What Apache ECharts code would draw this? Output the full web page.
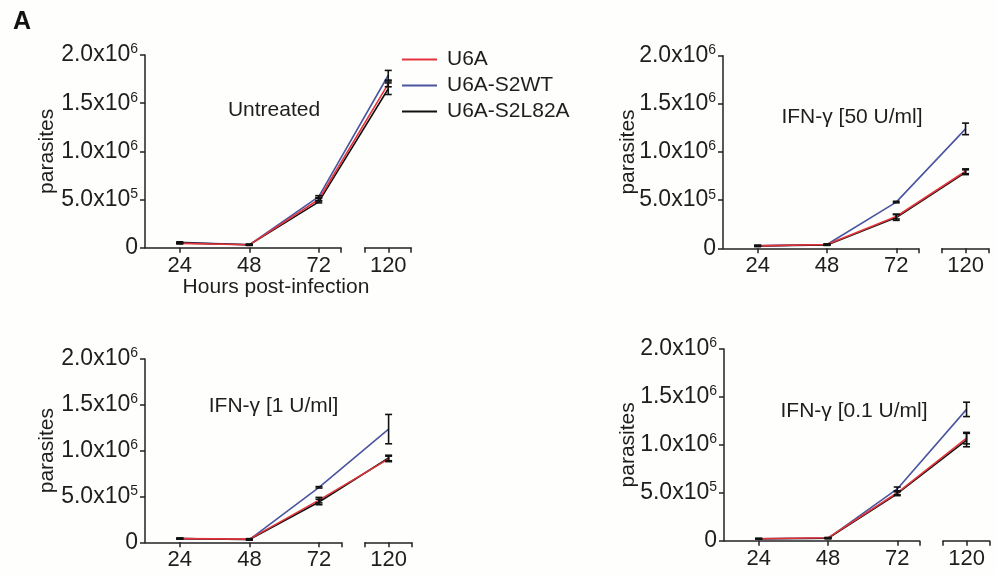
<!DOCTYPE html>
<html><head><meta charset="utf-8">
<script src="https://cdn.jsdelivr.net/npm/echarts@6/dist/echarts.min.js"></script>
<style>html,body{margin:0;padding:0;background:#fefefc}#c{width:997px;height:575px}</style>
</head><body><div id="c"></div>
<script>
// ---------- data ----------
const hours = ['24', '48', '72', '120'];
const seriesNames = ['U6A', 'U6A-S2WT', 'U6A-S2L82A'];
const panelTitles = ['Untreated', 'IFN-γ [50 U/ml]', 'IFN-γ [1 U/ml]', 'IFN-γ [0.1 U/ml]'];
const yTicks = [0, 500000, 1000000, 1500000, 2000000];
const yTickBase = ['0', '5.0x10', '1.0x10', '1.5x10', '2.0x10'];
const yTickExp = ['', '5', '6', '6', '6'];

// Untreated
const untreated_U6A = [45000, 30000, 500000, 1700000];
const untreated_U6A_err = [6000, 5000, 12000, 30000];
const untreated_S2WT = [55000, 30000, 530000, 1790000];
const untreated_S2WT_err = [6000, 5000, 10000, 50000];
const untreated_L82A = [50000, 30000, 475000, 1650000];
const untreated_L82A_err = [6000, 5000, 10000, 60000];
// IFN-g 50 U/ml
const ifn50_U6A = [25000, 40000, 330000, 800000];
const ifn50_U6A_err = [5000, 5000, 25000, 25000];
const ifn50_S2WT = [25000, 40000, 480000, 1240000];
const ifn50_S2WT_err = [5000, 5000, 8000, 60000];
const ifn50_L82A = [25000, 35000, 320000, 790000];
const ifn50_L82A_err = [5000, 5000, 30000, 25000];
// IFN-g 1 U/ml
const ifn1_U6A = [40000, 35000, 460000, 910000];
const ifn1_U6A_err = [5000, 5000, 30000, 30000];
const ifn1_S2WT = [40000, 30000, 600000, 1235000];
const ifn1_S2WT_err = [5000, 5000, 8000, 160000];
const ifn1_L82A = [40000, 30000, 440000, 920000];
const ifn1_L82A_err = [5000, 5000, 30000, 30000];
// IFN-g 0.1 U/ml
const ifn01_U6A = [20000, 30000, 500000, 1070000];
const ifn01_U6A_err = [3000, 4000, 20000, 60000];
const ifn01_S2WT = [20000, 25000, 540000, 1370000];
const ifn01_S2WT_err = [3000, 4000, 20000, 75000];
const ifn01_L82A = [20000, 25000, 490000, 1050000];
const ifn01_L82A_err = [3000, 4000, 20000, 70000];

const panelValues = [
  [untreated_U6A, untreated_S2WT, untreated_L82A],
  [ifn50_U6A, ifn50_S2WT, ifn50_L82A],
  [ifn1_U6A, ifn1_S2WT, ifn1_L82A],
  [ifn01_U6A, ifn01_S2WT, ifn01_L82A]
];
const panelErrors = [
  [untreated_U6A_err, untreated_S2WT_err, untreated_L82A_err],
  [ifn50_U6A_err, ifn50_S2WT_err, ifn50_L82A_err],
  [ifn1_U6A_err, ifn1_S2WT_err, ifn1_L82A_err],
  [ifn01_U6A_err, ifn01_S2WT_err, ifn01_L82A_err]
];

// ---------- style / layout ----------
const FONT = '"Liberation Sans", Arial, sans-serif';
const TXT = '#1e1e1e';
const colors = ['#e3343c', '#4a55a0', '#111111'];
const zOrder = [4, 2, 3];
const layout = [
  { left: 145, top: 55, bottom: 247.7, unit: 69.5, nameGap: 87.5, title: [274, 110] },
  { left: 723, top: 55.7, bottom: 248.3, unit: 69.3, nameGap: 84.5, title: [852, 117] },
  { left: 145, top: 359, bottom: 542.3, unit: 69.6, nameGap: 87, title: [273.5, 406.7] },
  { left: 724, top: 349, bottom: 540.7, unit: 69.3, nameGap: 85.5, title: [854, 411.7] }
];
const X_MIN = -0.5, X_MAX = 3.33, BREAK_L = 2.32, BREAK_R = 2.66;

const grids = [], xAxes = [], yAxes = [], series = [];

layout.forEach((L, p) => {
  const h = L.bottom - L.top;
  // data grid
  const gData = grids.length;
  grids.push({ left: L.left, top: L.top, width: (X_MAX - X_MIN) * L.unit, height: h });
  xAxes.push({ gridIndex: gData, type: 'value', min: X_MIN, max: X_MAX, show: false, axisLine: { onZero: false } });
  yAxes.push({
    gridIndex: gData, type: 'value', min: 0, max: 2000000, interval: 500000,
    name: 'parasites', nameLocation: 'middle', nameGap: L.nameGap, nameRotate: 90, nameMoveOverlap: false,
    nameTextStyle: { fontSize: 21, fontFamily: FONT, color: TXT },
    axisLine: { show: true, onZero: false, lineStyle: { color: '#222', width: 1.5 } },
    axisTick: { show: true, length: 5, lineStyle: { color: '#222', width: 1.5 } },
    splitLine: { show: false },
    axisLabel: {
      margin: 7,
      formatter: v => {
        const i = yTicks.indexOf(v);
        if (i < 0) return '';
        return yTickExp[i] ? '{b|' + yTickBase[i] + '}{s|' + yTickExp[i] + '}' : '{b|' + yTickBase[i] + '}';
      },
      rich: {
        b: { fontSize: 23, fontFamily: FONT, color: TXT, lineHeight: 25 },
        s: { fontSize: 14, fontFamily: FONT, color: TXT, verticalAlign: 'top', lineHeight: 25, padding: [0, 0, 6, 0] }
      }
    }
  });
  // broken x axis: left segment
  const gL = grids.length;
  grids.push({ left: L.left, top: L.bottom - 10, width: (BREAK_L - X_MIN) * L.unit, height: 10 });
  xAxes.push({
    gridIndex: gL, type: 'value', min: X_MIN, max: BREAK_L,
    axisLine: { show: true, onZero: false, lineStyle: { color: '#222', width: 1.5 } },
    axisTick: { show: true, length: 5, customValues: [0, 1, 2, BREAK_L], lineStyle: { color: '#222', width: 1.5 } },
    axisLabel: { customValues: [0, 1, 2], formatter: v => hours[Math.round(v)], fontSize: 22, fontFamily: FONT, color: TXT, margin: 7 },
    splitLine: { show: false }
  });
  yAxes.push({ gridIndex: gL, type: 'value', show: false, axisLine: { onZero: false } });
  // right segment
  const gR = grids.length;
  grids.push({ left: L.left + (BREAK_R - X_MIN) * L.unit, top: L.bottom - 10, width: (X_MAX - BREAK_R) * L.unit, height: 10 });
  xAxes.push({
    gridIndex: gR, type: 'value', min: BREAK_R, max: X_MAX,
    axisLine: { show: true, onZero: false, lineStyle: { color: '#222', width: 1.5 } },
    axisTick: { show: true, length: 5, customValues: [BREAK_R, 3, X_MAX], lineStyle: { color: '#222', width: 1.5 } },
    axisLabel: { customValues: [3], formatter: v => hours[Math.round(v)], fontSize: 22, fontFamily: FONT, color: TXT, margin: 7 },
    splitLine: { show: false }
  });
  yAxes.push({ gridIndex: gR, type: 'value', show: false, axisLine: { onZero: false } });

  // series
  [1, 2, 0].forEach(s => {
    const vals = panelValues[p][s];
    series.push({
      type: 'line', name: seriesNames[s], xAxisIndex: gData, yAxisIndex: gData,
      data: vals.map((v, i) => [i, v]), symbol: 'none', color: colors[s],
      lineStyle: { color: colors[s], width: 1.6 }, z: zOrder[s], silent: true, animation: false
    });
  });
  [1, 2, 0].forEach(s => {
    const vals = panelValues[p][s], errs = panelErrors[p][s];
    series.push({
      type: 'custom', name: 'err' + p + s, xAxisIndex: gData, yAxisIndex: gData,
      data: vals.map((v, i) => [i, v - errs[i], v + errs[i]]),
      encode: { x: 0, y: [1, 2] }, z: 6, silent: true, animation: false,
      renderItem: (params, api) => {
        const x = api.value(0);
        const lo = api.coord([x, api.value(1)]);
        const hi = api.coord([x, api.value(2)]);
        const w = 3.5, st = { stroke: '#111', lineWidth: 1.6 };
        return { type: 'group', children: [
          { type: 'line', shape: { x1: lo[0], y1: lo[1], x2: hi[0], y2: hi[1] }, style: st },
          { type: 'line', shape: { x1: lo[0] - w, y1: lo[1], x2: lo[0] + w, y2: lo[1] }, style: st },
          { type: 'line', shape: { x1: hi[0] - w, y1: hi[1], x2: hi[0] + w, y2: hi[1] }, style: st }
        ] };
      }
    });
  });
});

const graphics = [
  { type: 'text', x: 22, y: 22, style: { text: 'A', fontSize: 25, fontWeight: 'bold', fontFamily: FONT, fill: '#111', align: 'center', verticalAlign: 'middle' } },
  { type: 'text', x: 276, y: 287, style: { text: 'Hours post-infection', fontSize: 21, fontFamily: FONT, fill: TXT, align: 'center', verticalAlign: 'middle' } }
];
layout.forEach((L, p) => {
  graphics.push({ type: 'text', x: L.title[0], y: L.title[1], style: { text: panelTitles[p], fontSize: 21, fontFamily: FONT, fill: TXT, align: 'center', verticalAlign: 'middle' } });
});

const chart = echarts.init(document.getElementById('c'), null, { renderer: 'canvas' });
chart.setOption({
  backgroundColor: '#fefefc',
  animation: false,
  legend: {
    data: seriesNames, orient: 'vertical', left: 397, top: 44,
    itemWidth: 35, itemHeight: 2, itemGap: 5, icon: 'rect', selectedMode: false,
    textStyle: { fontSize: 21, fontFamily: FONT, color: TXT, lineHeight: 21, padding: [0, 0, 0, 5] }
  },
  grid: grids, xAxis: xAxes, yAxis: yAxes, series: series, graphic: graphics
});
</script>
</body></html>
